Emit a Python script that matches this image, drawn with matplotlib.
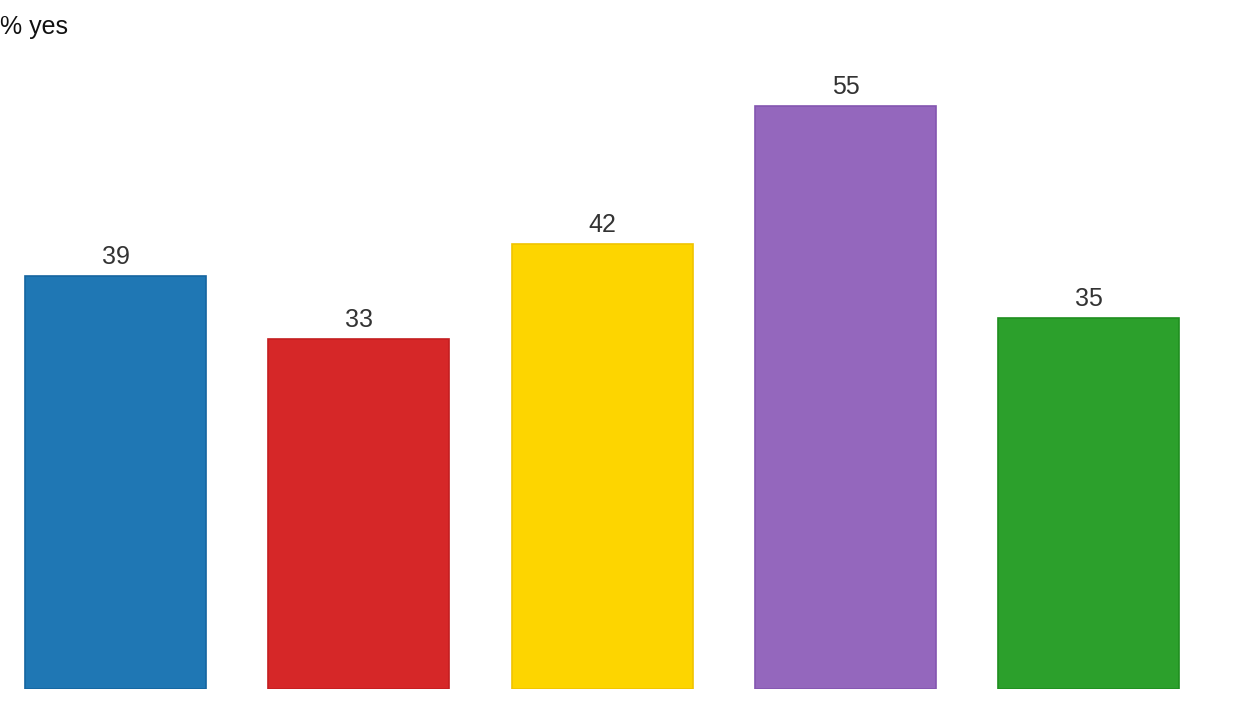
import matplotlib
matplotlib.use('Agg')
import matplotlib.pyplot as plt

categories = ['A', 'B', 'C', 'D', 'E']
values = [39, 33, 42, 55, 35]
fills = ['#1f77b4', '#d62728', '#fdd500', '#9467bd', '#2ca02c']
edges = ['#1565a0', '#c41e20', '#f0c400', '#8456b0', '#1f8f1f']

plt.rcParams['font.family'] = ['Liberation Sans', 'DejaVu Sans']

fig = plt.figure(figsize=(12.45, 7.01), dpi=100)
# axes spans from the bar baseline (y=689 px) to the top of the figure
ax = fig.add_axes([0, 12 / 701, 1, 689 / 701])

x = list(range(len(categories)))
ax.bar(x, values, width=0.744, color=fills, edgecolor=edges, linewidth=1.2)
for xi, v in zip(x, values):
    ax.annotate(str(v), (xi, v), xytext=(0, 5), textcoords='offset points',
                ha='center', va='bottom', fontsize=18, color='#333333')

ax.set_xlim(-0.475, 4.642)
ax.set_ylim(0, 65)
ax.axis('off')

fig.text(0.0, 1 - 27 / 701, '% yes', ha='left', va='center', fontsize=18, color='#111111')

fig.savefig('out.png', dpi=100)
plt.close(fig)
